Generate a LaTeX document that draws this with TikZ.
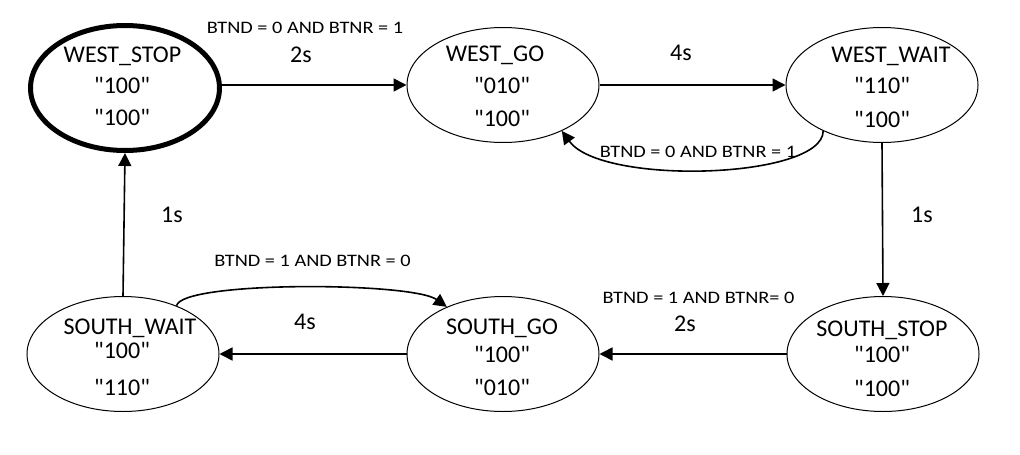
\documentclass[tikz,border=0pt]{standalone}
\usepackage{fontspec}
\setmainfont{Carlito}[Ligatures=TeXOff]
\newfontfamily\lblfont{Carlito}[Ligatures=TeXOff,FakeStretch=1.16]
\usetikzlibrary{shapes.geometric,arrows.meta}
\begin{document}
\begin{tikzpicture}[x=1pt,y=-1pt,
  state/.style={draw,ellipse,line width=1pt,minimum width=192pt,minimum height=115pt,inner sep=0pt},
  startstate/.style={state,line width=5pt,minimum width=189pt,minimum height=125pt},
  txt/.style={anchor=base,inner sep=0pt,font=\fontsize{24}{28}\selectfont},
  lbl/.style={anchor=base,inner sep=0pt,font=\lblfont\fontsize{17.5}{20}\selectfont},
  conn/.style={line width=1.6pt,-{Triangle[length=13pt,width=13pt]}}]
\fill[white] (0,0) rectangle (1020,455);
\useasboundingbox (0,0) rectangle (1020,455);

% states
\node[startstate] (ws) at (125,88) {};
\node[state] (wg) at (503,85) {};
\node[state] (ww) at (882,85) {};
\node[state] (ss) at (883,354) {};
\node[state] (sg) at (503,354) {};
\node[state] (sw) at (123,354) {};

% state texts
\node[txt] (wsa) at (122.5,62) {WEST\_STOP};
\node[txt] (wsb) at (122,93) {"100"};
\node[txt] (wsc) at (122,125) {"100"};
\node[txt] (wga) at (495,61) {WEST\_GO};
\node[txt] (wgb) at (502,93) {"010"};
\node[txt] (wgc) at (502,126) {"100"};
\node[txt] (wwa) at (891,62) {WEST\_WAIT};
\node[txt] (wwb) at (882,93) {"110"};
\node[txt] (wwc) at (882,127) {"100"};
\node[txt] (ssa) at (882,336) {SOUTH\_STOP};
\node[txt] (ssb) at (882,362) {"100"};
\node[txt] (ssc) at (882,396) {"100"};
\node[txt] (sga) at (502,334) {SOUTH\_GO};
\node[txt] (sgb) at (502,362) {"100"};
\node[txt] (sgc) at (502,395) {"010"};
\node[txt] (swa) at (130,334) {SOUTH\_WAIT};
\node[txt] (swb) at (122,358) {"100"};
\node[txt] (swc) at (122,395) {"110"};

% connectors
\draw[conn] (ws.east |- wg.west) -- (wg.west);
\draw[conn] (wg.east) -- (ww.west);
\draw[conn] (ww.218) .. controls +(0,48) and +(40,55) .. (wg.322);
\draw[conn] (ww.south) -- (ss.north);
\draw[conn] (ss.west) -- (sg.east);
\draw[conn] (sg.west) -- (sw.east);
\draw[conn] (sw.42) .. controls +(5,-25) and +(-35,-25) .. (sg.140);
\draw[conn] (sw.north) -- (ws.south);

% labels
\node[lbl] (l1) at (305,33) {BTND = 0 AND BTNR = 1};
\node[txt] (l2) at (301,62) {2s};
\node[txt] (l3) at (681,60) {4s};
\node[lbl] (l4) at (698,157) {BTND = 0 AND BTNR = 1};
\node[txt] (l5) at (922,222) {1s};
\node[lbl] (l6) at (698.5,303) {BTND = 1 AND BTNR= 0};
\node[txt] (l7) at (685,331) {2s};
\node[txt] (l8) at (305,329) {4s};
\node[lbl] (l9) at (312.5,266) {BTND = 1 AND BTNR = 0};
\node[txt] (l10) at (172,222) {1s};
\end{tikzpicture}
\end{document}
